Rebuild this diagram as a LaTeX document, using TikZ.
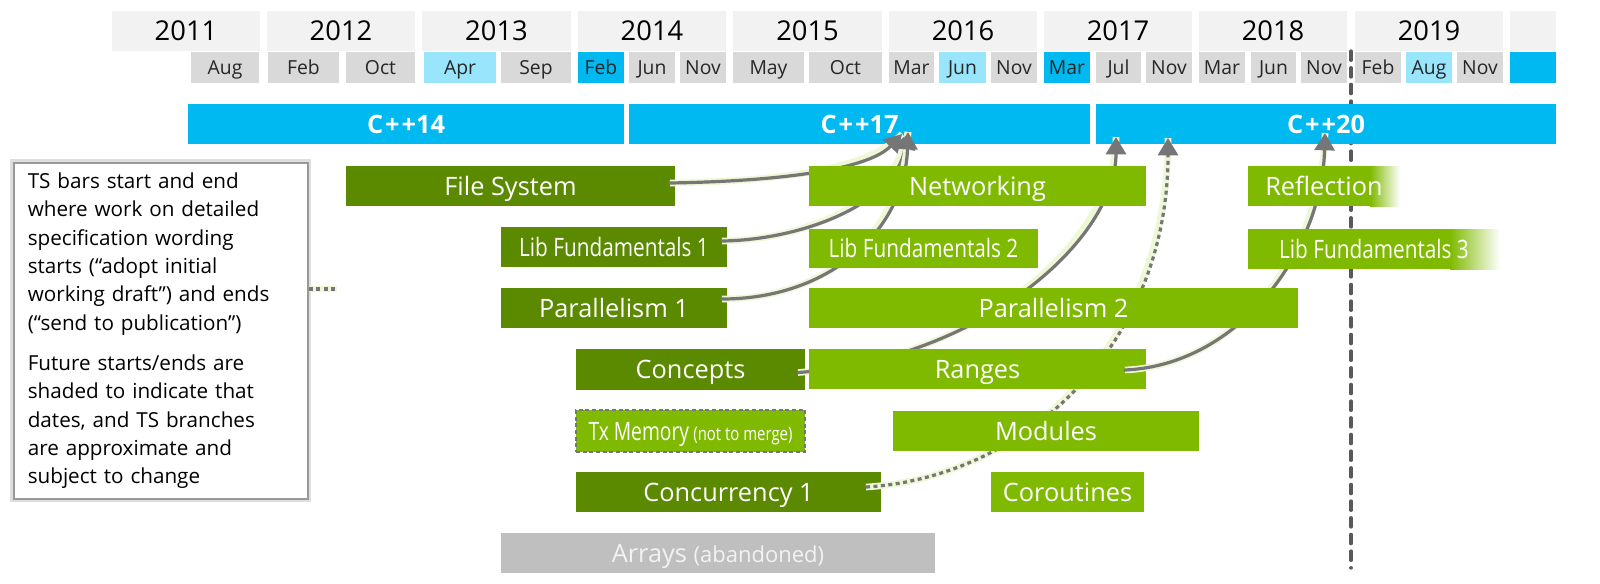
\documentclass[tikz,border=0pt]{standalone}
\usepackage{fontspec}
\usepackage{graphicx}
\setmainfont{Open Sans}
\usetikzlibrary{arrows.meta,calc}
\definecolor{yearbg}{HTML}{F2F2F2}
\definecolor{monbg}{HTML}{D9D9D9}
\definecolor{lcyan}{HTML}{99E5FC}
\definecolor{cyanb}{HTML}{00B9F1}
\definecolor{dgreen}{HTML}{5B8A00}
\definecolor{lgreen}{HTML}{7FBA00}
\definecolor{lgray}{HTML}{BFBFBF}
\definecolor{conncol}{HTML}{767676}
\definecolor{glow}{HTML}{EEF7D6}
\definecolor{vline}{HTML}{595959}
\definecolor{txtdark}{HTML}{262626}
\begin{document}
\begin{tikzpicture}[x=0.75pt,y=-0.75pt,
  bx/.style n args={4}{at={(#1,#2)}, anchor=north west,
     minimum width={(#3-#1)*0.75pt}, minimum height={(#4-#2)*0.75pt}},
  cell/.style={inner sep=0pt, outer sep=0pt, draw=none},
  yearbox/.style={cell, fill=yearbg, font=\fontsize{20.5}{24}\selectfont, text height=14.6pt, text depth=0pt, text=black},
  monbox/.style={cell, fill=monbg, font=\fontsize{14.5}{17}\selectfont, text height=10.4pt, text depth=0pt, text=txtdark},
  stdbar/.style={cell, fill=cyanb, font=\bfseries\fontsize{19}{22}\selectfont, text height=13.6pt, text depth=0pt, text=white},
  tsbase/.style={cell, font=\fontsize{19}{22}\selectfont, text height=13.6pt, text depth=0pt, text=white},
  tsold/.style={tsbase, fill=dgreen},
  tsnew/.style={tsbase, fill=lgreen},
  tsfade/.style={tsbase},
  tsdrop/.style={tsbase, fill=lgray, text=yearbg},
  tsdash/.style={tsbase, fill=lgreen, draw=conncol, line width=1.1pt, dash pattern=on 3pt off 2pt},
  notebox/.style={inner sep=0pt, fill=white, draw=black!40, line width=1.2pt,
     preaction={draw=black!13, line width=5pt},
     align=left, text width=199.5pt, font=\fontsize{15.5}{21.25}\selectfont, text=black},
  conn/.style={draw=conncol, line width=2.4pt, line cap=round,
     preaction={draw=glow, line width=5pt, solid, arrows=-}},
  headtip/.style={arrows={-Triangle[width=15pt,length=13pt]}},
  connarrow/.style={conn, headtip},
  conndot/.style={conn, line cap=butt, dash pattern=on 3pt off 2.6pt},
  today/.style={draw=vline, line width=2.4pt, line cap=round, dash pattern=on 7pt off 5.5pt},
]
\useasboundingbox (0,0) rectangle (1600,583);

% vertical "today" line
\coordinate (vtop) at (1351,51);
\coordinate (vbot) at (1351,568);
\draw[today] (vtop) -- (vbot);

% ---- years
\node[yearbox, bx={112}{11}{260}{51}] (y11) {2011};
\node[yearbox, bx={267}{11}{415}{51}] (y12) {2012};
\node[yearbox, bx={422}{11}{571}{51}] (y13) {2013};
\node[yearbox, bx={578}{11}{726}{51}] (y14) {2014};
\node[yearbox, bx={733}{11}{882}{51}] (y15) {2015};
\node[yearbox, bx={889}{11}{1037}{51}] (y16) {2016};
\node[yearbox, bx={1044}{11}{1192}{51}] (y17) {2017};
\node[yearbox, bx={1199}{11}{1347}{51}] (y18) {2018};
\node[yearbox, bx={1355}{11}{1503}{51}] (y19) {2019};
\node[yearbox, bx={1510}{11}{1556}{51}] (y20) {};

% ---- months
\node[monbox, bx={191}{52}{259}{83}] (m1) {Aug};
\node[monbox, bx={268}{52}{339}{83}] (m2) {Feb};
\node[monbox, bx={346}{52}{415}{83}] (m3) {Oct};
\node[monbox, fill=lcyan, bx={424}{52}{496}{83}] (m4) {Apr};
\node[monbox, bx={501}{52}{571}{83}] (m5) {Sep};
\node[monbox, fill=cyanb, bx={578}{52}{624}{83}] (m6) {Feb};
\node[monbox, bx={629}{52}{675}{83}] (m7) {Jun};
\node[monbox, bx={680}{52}{726}{83}] (m8) {Nov};
\node[monbox, bx={733}{52}{804}{83}] (m9) {May};
\node[monbox, bx={809}{52}{882}{83}] (m10) {Oct};
\node[monbox, bx={889}{52}{934}{83}] (m11) {Mar};
\node[monbox, fill=lcyan, bx={939}{52}{986}{83}] (m12) {Jun};
\node[monbox, bx={991}{52}{1037}{83}] (m13) {Nov};
\node[monbox, fill=cyanb, bx={1044}{52}{1090}{83}] (m14) {Mar};
\node[monbox, bx={1096}{52}{1141}{83}] (m15) {Jul};
\node[monbox, bx={1146}{52}{1192}{83}] (m16) {Nov};
\node[monbox, bx={1199}{52}{1245}{83}] (m17) {Mar};
\node[monbox, bx={1251}{52}{1296}{83}] (m18) {Jun};
\node[monbox, bx={1301}{52}{1347}{83}] (m19) {Nov};
\node[monbox, bx={1355}{52}{1401}{83}] (m20) {Feb};
\node[monbox, fill=lcyan, bx={1406}{52}{1452}{83}] (m21) {Aug};
\node[monbox, bx={1457}{52}{1503}{83}] (m22) {Nov};
\node[monbox, fill=cyanb, bx={1510}{52}{1556}{83}] (m23) {};

% ---- standards
\node[stdbar, bx={188}{104}{624}{144}] (cpp14) {C{\kern1.5pt}+{\kern1.5pt}+14};
\node[stdbar, bx={629}{104}{1090}{144}] (cpp17) {C{\kern1.5pt}+{\kern1.5pt}+17};
\node[stdbar, bx={1096}{104}{1556}{144}] (cpp20) {C{\kern1.5pt}+{\kern1.5pt}+20};

% ---- finished TS bars
\node[tsold, bx={346}{166}{675}{206}] (fs) {File System};
\node[tsold, bx={501}{227}{727}{267}] (lf1) {\scalebox{0.82}[1]{Lib Fundamentals 1}};
\node[tsold, bx={501}{288}{727}{328}] (par1) {Parallelism 1};
\node[tsold, bx={576}{349}{805}{390}] (concepts) {Concepts};
\node[tsdash, bx={576}{410}{805}{452}] (txm) {\scalebox{0.76}[1]{Tx Memory}\,{\fontsize{14}{16}\selectfont\scalebox{0.8}[1]{(not to merge)}}};
\node[tsold, bx={576}{472}{881}{512}] (conc1) {Concurrency 1};
\node[tsdrop, bx={501}{533}{935}{573}] (arrays) {Arrays {\fontsize{16.5}{19}\selectfont (abandoned)}};

% ---- note
\node[notebox, bx={13}{162}{307}{498}] (note) {TS bars start and end\\
where work on detailed\\
specification wording\\
starts (“adopt initial\\
working draft”) and ends\\
(“send to publication”)\\[8.8pt]
Future starts/ends are\\
shaded to indicate that\\
dates, and TS branches\\
are approximate and\\
subject to change};
\coordinate (noteend) at (337,289);
\draw[conndot] (note.east |- noteend) -- (noteend);

% ---- connectors behind later bars
\draw[connarrow] ($(fs.east)+(-5,-3)$) .. controls (790,181) and (870,168) .. ($(cpp17.south)+(42.5,-10)$);
\draw[connarrow] ($(lf1.east)+(-5,-6)$) .. controls (800,240) and (895,205) .. ($(cpp17.south)+(48.5,-12)$);
\draw[connarrow] ($(par1.east)+(-5,-9)$) .. controls (830,299) and (905,230) .. ($(cpp17.south)+(48.5,-12)$);
\draw[connarrow] ($(concepts.east)+(-7,3)$) .. controls (980,360) and (1116,240) .. ($(cpp20.south)+(-210,-7)$);
\draw[conndot, headtip] ($(conc1.east)+(-15,-5)$) .. controls (1020,478) and (1168,350) .. ($(cpp20.south)+(-158,-6)$);

% ---- new TS bars
\node[tsnew, bx={809}{166}{1146}{206}] (net) {Networking};
\node[tsnew, bx={809}{229}{1038}{268}] (lf2) {\scalebox{0.82}[1]{Lib Fundamentals 2}};
\node[tsnew, bx={809}{349}{1146}{389}] (ranges) {Ranges};
\node[tsnew, bx={893}{411}{1199}{451}] (modules) {Modules};
\node[tsnew, bx={991}{472}{1144}{512}] (corout) {Coroutines};

\draw[connarrow] ($(ranges.east)+(-21,1)$) .. controls (1240,365) and (1322,250) .. ($(cpp20.south)+(-1,-11)$);

\node[tsnew, bx={809}{288}{1298}{328}] (par2) {Parallelism 2};
\fill[lgreen] (1248,166) rectangle (1371,206);
\shade[left color=lgreen, right color=white] (1370,166) rectangle (1400,206);
\node[tsfade, bx={1248}{166}{1400}{206}] (refl) {Reflection};
\fill[lgreen] (1248,229) rectangle (1451,269);
\shade[left color=lgreen, right color=white] (1450,229) rectangle (1500,269);
\node[tsfade, bx={1248}{229}{1500}{269}] (lf3) {\scalebox{0.82}[1]{Lib Fundamentals 3}};
\end{tikzpicture}
\end{document}
